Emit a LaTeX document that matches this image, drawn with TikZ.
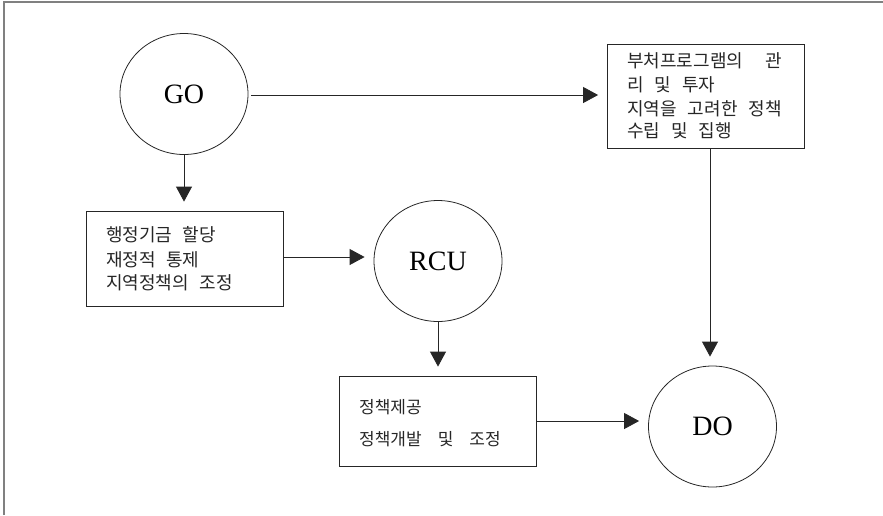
\documentclass[tikz,border=0pt]{standalone}
\usepackage{fontspec}
\setmainfont{Liberation Serif}
\newfontfamily\krfont{Noto Sans CJK KR}
% Hangul text at a given size and word spacing
\newcommand\krtext[2]{\krfont\fontsize{#1}{20}\selectfont\spaceskip=#2\relax}
\usetikzlibrary{shapes.geometric,arrows.meta}
\begin{document}
\begin{tikzpicture}[x=1pt,y=-1pt,
  line/.style={draw=black!85, line width=0.8pt},
  agent/.style={ellipse, line, minimum width=128pt, minimum height=121pt,
    inner sep=0pt, font=\fontsize{28}{32}\selectfont},
  panel/.style={rectangle, line, minimum width=197pt, inner sep=0pt},
  kline/.style={anchor=base west, inner sep=0pt, text=black!85},
  flow/.style={line, -{Triangle[length=15pt,width=16pt]}, shorten >=9pt}
]
\useasboundingbox (0,0) rectangle (883,515);
% open frame: top and left edges only
\draw[gray, line width=1.4pt] (4,515) -- (4,2) -- (883,2);

% agents
\node[agent] (go)  at (184,94)    {GO};
\node[agent] (rcu) at (438,261)   {RCU};
\node[agent] (do)  at (712.5,426.5) {DO};

% panels
\node[panel, minimum height=95pt]  (p1) at (184.5,258.5) {};
\node[panel, minimum height=104pt] (p2) at (706,96)     {};
\node[panel, minimum height=90pt]  (p3) at (437.5,421)  {};

% panel texts, one line per node
\begin{scope}[kline/.append style={font={\krtext{18}{10.5pt}}}]
  \node[kline] (t1a) at (106,241) {행정기금 할당};
  \node[kline] (t1b) at (106,266) {재정적 통제};
  \node[kline] (t1c) at (106,289) {지역정책의 조정};
\end{scope}
\begin{scope}[kline/.append style={font={\krtext{18}{11pt}}}]
  \node[kline] (t2a) at (627,67)  {부처프로그램의\hspace{22pt}관};
  \node[kline] (t2b) at (627,91)  {리 및 투자};
  \node[kline] (t2c) at (627,115) {지역을 고려한 정책};
  \node[kline] (t2d) at (627,137) {수립 및 집행};
\end{scope}
\begin{scope}[kline/.append style={font={\krtext{17}{16pt}}}]
  \node[kline] (t3a) at (359,413) {정책제공};
  \node[kline] (t3b) at (359,445) {정책개발 및 조정};
\end{scope}

% connectors
\draw[flow] ([xshift=3pt,yshift=-1pt]go.east) -- ([yshift=-1pt]go.east -| p2.west);
\draw[flow] (go.south) -- (go.south |- p1.north);
\draw[flow] ([xshift=1pt,yshift=1.5pt]p1.east) -- ([yshift=1.5pt]p1.east -| rcu.west);
\draw[flow] (rcu.south) -- (rcu.south |- p3.north);
\draw[flow] ([xshift=4pt]p2.south) -- ([xshift=4pt]p2.south |- do.north);
\draw[flow] ([xshift=1pt]p3.east) -- (p3.east -| do.west);
\end{tikzpicture}
\end{document}
